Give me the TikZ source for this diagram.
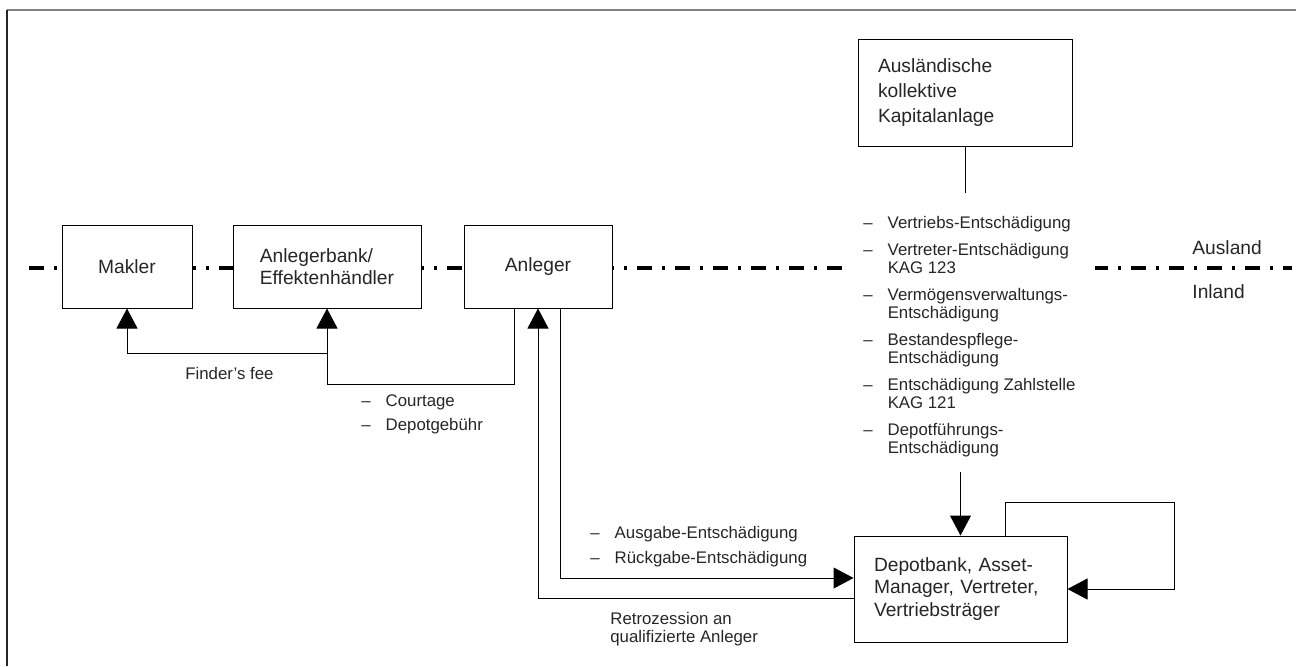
\documentclass[tikz,border=0pt]{standalone}
\usepackage{fontspec}
\setmainfont{Liberation Sans}
\usetikzlibrary{arrows.meta}

\begin{document}
\begin{tikzpicture}[x=0.5pt,y=-0.5pt,
    box/.style={draw,line width=0.5pt,fill=white,text=black!85,font=\fontsize{9.6}{11.3}\selectfont},
    arr/.style={-{Triangle[length=10pt,width=10.5pt]},line width=0.5pt},
    lbl/.style={inner sep=0pt,text=black!85,font=\fontsize{8.4}{9}\selectfont},
    grenze/.style={line width=2pt,dash pattern=on 7.5pt off 5pt on 1.5pt off 5pt}]
      \useasboundingbox (0,0) rectangle (1296,666);
      \draw[gray,line width=1pt] (7,9.5) -- (1296,9.5);
      \draw[black!85,line width=0.8pt] (7,9.5) -- (7,666);
      \draw[grenze] (29,268) -- (1292,268);
      \node[box,minimum width=65pt,minimum height=41.5pt] (makler) at (127,266.5) {Makler};
      \node[box,minimum width=94pt,minimum height=41.5pt,align=left] (bank) at (327,266.5) {Anlegerbank/\\Effektenhändler};
      \node[box,minimum width=74pt,minimum height=41.5pt] (anleger) at (538,266.5) {Anleger};
      \node[box,text width=87pt,minimum height=53.5pt,inner xsep=10pt,align=left,font=\fontsize{9.6}{12.5}\selectfont] (ausl) at (965,92.5) {Ausländische\\kollektive\\Kapitalanlage};
      \node[box,text width=86.5pt,minimum height=53pt,inner xsep=10pt,align=left] (depot) at (960.5,589) {Depotbank, Asset-\\Manager, Vertreter,\\Vertriebsträger};
      \node[lbl,fill=white,inner xsep=10pt,anchor=base west] (kosten) at (843,228) {\begin{tabular}[t]{@{}l@{\hspace{7.5pt}}l@{}}
        – & Vertriebs-Entschädigung\\[4.5pt]
        – & Vertreter-Entschädigung\\
          & KAG 123\\[4.5pt]
        – & Vermögensverwaltungs-\\
          & Entschädigung\\[4.5pt]
        – & Bestandespflege-\\
          & Entschädigung\\[4.5pt]
        – & Entschädigung Zahlstelle\\
          & KAG 121\\[4.5pt]
        – & Depotführungs-\\
          & Entschädigung
      \end{tabular}};
      \node[lbl,anchor=base west,font=\fontsize{9.6}{11.3}\selectfont] (ausland) at (1192,254) {Ausland};
      \node[lbl,anchor=base west,font=\fontsize{9.6}{11.3}\selectfont] (inland) at (1192,298) {Inland};
      \node[lbl,anchor=base west] (finder) at (185,379) {Finder’s fee};
      \node[lbl,anchor=base west] (gebuehr) at (361,406) {\begin{tabular}[t]{@{}l@{\hspace{7.5pt}}l@{}}
        – & Courtage\\[3pt]
        – & Depotgebühr
      \end{tabular}};
      \node[lbl,anchor=base west] (rueckgabe) at (590,538) {\begin{tabular}[t]{@{}l@{\hspace{7.5pt}}l@{}}
        – & Ausgabe-Entschädigung\\[3.5pt]
        – & Rückgabe-Entschädigung
      \end{tabular}};
      \node[lbl,anchor=north west,align=left] (retro) at (610,612) {Retrozession an\\qualifizierte Anleger};
      \coordinate (kopf) at (965,193);
      \coordinate (fuss) at (960.5,472);
      \coordinate (fee) at (327,353);
      \coordinate (knick) at (327,384);
      \coordinate (schleife) at (1174,502);
      \draw[line width=0.5pt] (ausl.south) -- (kopf);
      \draw[arr] (fuss) -- (depot.north);
      \draw[arr] (fee) -| (makler.south);
      \draw[arr] ([xshift=-12pt]anleger.south) |- (knick) -- (bank.south);
      \draw[arr] ([yshift=-4.5pt]depot.west) -| (anleger.south);
      \draw[arr] ([xshift=11pt]anleger.south) |- ([yshift=5.5pt]depot.west);
      \draw[arr] ([xshift=22.5pt]depot.north) |- (schleife) |- (depot.east);
\end{tikzpicture}
\end{document}
